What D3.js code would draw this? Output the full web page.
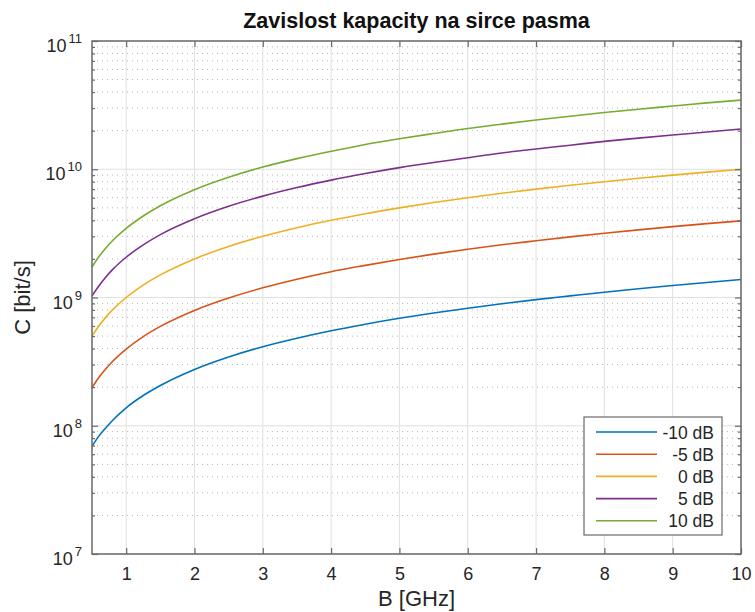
<!DOCTYPE html>
<html>
<head>
<meta charset="utf-8">
<script src="https://cdn.jsdelivr.net/npm/d3@7"></script>
<style>
  body { margin: 0; background: #fff; }
  svg { font-family: "Liberation Sans", Arial, sans-serif; }
</style>
</head>
<body>
<svg id="chart" width="755" height="612"></svg>
<script>
// bandwidth points in GHz
const bandwidth = [0.5, 0.6, 0.7, 0.8, 1, 1.25, 1.5, 2, 2.5, 3, 3.5, 4, 4.5, 5, 5.5, 6, 6.5, 7, 7.5, 8, 8.5, 9, 9.5, 10]

// capacity values in Gbit/s
const cap_m10 = [0.069, 0.083, 0.096, 0.110, 0.138, 0.172, 0.206, 0.275, 0.344, 0.413, 0.481, 0.550, 0.619, 0.688, 0.756, 0.825, 0.894, 0.963, 1.03, 1.10, 1.17, 1.24, 1.31, 1.38]
const cap_m5 = [0.198, 0.238, 0.277, 0.317, 0.396, 0.496, 0.595, 0.793, 0.991, 1.19, 1.39, 1.59, 1.78, 1.98, 2.18, 2.38, 2.58, 2.77, 2.97, 3.17, 3.37, 3.57, 3.77, 3.96]
const cap_0 = [0.5, 0.6, 0.7, 0.8, 1.0, 1.25, 1.5, 2.0, 2.5, 3.0, 3.5, 4.0, 4.5, 5.0, 5.5, 6.0, 6.5, 7.0, 7.5, 8.0, 8.5, 9.0, 9.5, 10.0]
const cap_p5 = [1.03, 1.23, 1.44, 1.65, 2.06, 2.57, 3.09, 4.11, 5.14, 6.17, 7.20, 8.23, 9.26, 10.3, 11.3, 12.3, 13.4, 14.4, 15.4, 16.5, 17.5, 18.5, 19.5, 20.6]
const cap_p10 = [1.73, 2.08, 2.42, 2.77, 3.46, 4.32, 5.19, 6.92, 8.65, 10.4, 12.1, 13.8, 15.6, 17.3, 19.0, 20.8, 22.5, 24.2, 25.9, 27.7, 29.4, 31.1, 32.9, 34.6]

const series_names = ["-10 dB", "-5 dB", "0 dB", "5 dB", "10 dB"]
const series_values = [cap_m10, cap_m5, cap_0, cap_p5, cap_p10]
const series_colors = ["#0072BD", "#D95319", "#EDB120", "#7E2F8E", "#77AC30"]

const x_ticks = [1, 2, 3, 4, 5, 6, 7, 8, 9, 10]
const y_exponents = [7, 8, 9, 10, 11]

let margin = {top: 41, right: 14, bottom: 58, left: 92}
let width = 755, height = 612

let svg = d3.select('#chart')

let x = d3.scaleLinear().domain([0.5, 10]).range([margin.left, width - margin.right])
let y = d3.scaleLog().domain([1e7, 1e11]).range([height - margin.bottom, margin.top])

let x0 = x.range()[0], x1 = x.range()[1]
let y0 = y.range()[0], y1 = y.range()[1]

// minor y grid (2..9 of each decade)
let minor = []
y_exponents.slice(0, -1).forEach(e => {
    for (let m = 2; m <= 9; m++) minor.push(m * Math.pow(10, e))
})

let grid = svg.append('g')
grid.selectAll('line.minor')
    .data(minor)
    .join('line')
        .attr('class', 'minor')
        .attr('x1', x0).attr('x2', x1)
        .attr('y1', d => y(d)).attr('y2', d => y(d))
        .attr('stroke', '#b5b5b5')
        .attr('stroke-dasharray', '1,4')

grid.selectAll('line.vx')
    .data(x_ticks)
    .join('line')
        .attr('class', 'vx')
        .attr('x1', d => x(d)).attr('x2', d => x(d))
        .attr('y1', y0).attr('y2', y1)
        .attr('stroke', '#e0e0e0')

grid.selectAll('line.hy')
    .data(y_exponents)
    .join('line')
        .attr('class', 'hy')
        .attr('x1', x0).attr('x2', x1)
        .attr('y1', d => y(Math.pow(10, d))).attr('y2', d => y(Math.pow(10, d)))
        .attr('stroke', '#e0e0e0')

// curves
let line = d3.line()
    .x((d, i) => x(bandwidth[i]))
    .y(d => y(d * 1e9))
    .curve(d3.curveMonotoneX)

svg.append('g')
    .selectAll('path')
    .data(series_values)
    .join('path')
        .attr('d', d => line(d))
        .attr('fill', 'none')
        .attr('stroke', (d, i) => series_colors[i])
        .attr('stroke-width', 1.6)

// axes with inward ticks on all sides
let axis_color = '#6a6a6a'
let axes = svg.append('g').attr('color', axis_color)

let xb = axes.append('g').attr('transform', `translate(0,${y0})`)
    .call(d3.axisBottom(x).tickValues(x_ticks).tickSizeInner(-6).tickSizeOuter(0).tickFormat(d3.format('d')))
axes.append('g').attr('transform', `translate(0,${y1})`)
    .call(d3.axisTop(x).tickValues(x_ticks).tickSizeInner(-6).tickSizeOuter(0).tickFormat(''))

axes.append('g').attr('transform', `translate(${x0},0)`)
    .call(d3.axisLeft(y).tickValues(y_exponents.map(e => Math.pow(10, e))).tickSizeInner(-6).tickSizeOuter(0).tickFormat(''))
axes.append('g').attr('transform', `translate(${x1},0)`)
    .call(d3.axisRight(y).tickValues(y_exponents.map(e => Math.pow(10, e))).tickSizeInner(-6).tickSizeOuter(0).tickFormat(''))

axes.append('g').attr('transform', `translate(${x0},0)`)
    .call(d3.axisLeft(y).tickValues(minor).tickSizeInner(-3).tickSizeOuter(0).tickFormat(''))
axes.append('g').attr('transform', `translate(${x1},0)`)
    .call(d3.axisRight(y).tickValues(minor).tickSizeInner(-3).tickSizeOuter(0).tickFormat(''))

axes.selectAll('.domain').remove()
axes.selectAll('line').attr('stroke-width', 1.2)

xb.selectAll('text')
    .attr('dy', null)
    .attr('y', 26)
    .attr('font-size', 18)
    .attr('fill', '#262626')
    .attr('font-family', '"Liberation Sans", Arial, sans-serif')

// y tick labels 10^n
let ylab = svg.append('g')
y_exponents.forEach(e => {
    let t = ylab.append('text')
        .attr('x', x0 - 10)
        .attr('y', y(Math.pow(10, e)) + 11)
        .attr('text-anchor', 'end')
        .attr('fill', '#262626')
        .attr('font-size', 18)
    t.append('tspan').text('10')
    t.append('tspan').attr('font-size', 13).attr('dy', -9).attr('dx', 2).text(e)
})

// box
svg.append('rect')
    .attr('x', x0).attr('y', y1)
    .attr('width', x1 - x0).attr('height', y0 - y1)
    .attr('fill', 'none')
    .attr('stroke', axis_color)
    .attr('stroke-width', 1.5)

// title and axis labels
svg.append('text')
    .attr('x', (x0 + x1) / 2).attr('y', 28)
    .attr('text-anchor', 'middle')
    .attr('font-size', 21.5)
    .attr('font-weight', 'bold')
    .attr('fill', '#111')
    .text('Zavislost kapacity na sirce pasma')

svg.append('text')
    .attr('x', (x0 + x1) / 2).attr('y', 606)
    .attr('text-anchor', 'middle')
    .attr('font-size', 22)
    .attr('fill', '#262626')
    .text('B [GHz]')

svg.append('text')
    .attr('transform', `translate(30,${(y0 + y1) / 2}) rotate(-90)`)
    .attr('text-anchor', 'middle')
    .attr('font-size', 22)
    .attr('fill', '#262626')
    .text('C [bit/s]')

// legend
let lg = svg.append('g')
lg.append('rect')
    .attr('x', 584).attr('y', 417)
    .attr('width', 138).attr('height', 118)
    .attr('fill', '#fff')
    .attr('stroke', axis_color)
    .attr('stroke-width', 1.2)

let rows = lg.selectAll('g.row')
    .data(series_names)
    .join('g')
        .attr('class', 'row')
        .attr('transform', (d, i) => `translate(0,${432 + i * 22.2})`)

rows.append('line')
    .attr('x1', 596).attr('x2', 657)
    .attr('stroke', (d, i) => series_colors[i])
    .attr('stroke-width', 1.6)

rows.append('text')
    .attr('x', 714)
    .attr('y', 6.5)
    .attr('text-anchor', 'end')
    .attr('font-size', 17.5)
    .attr('fill', '#262626')
    .text(d => d)
</script>
</body>
</html>
